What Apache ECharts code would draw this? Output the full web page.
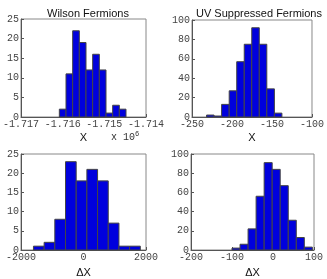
<!DOCTYPE html>
<html><head><meta charset="utf-8">
<script src="https://cdn.jsdelivr.net/npm/echarts@6/dist/echarts.min.js"></script>
<style>html,body{margin:0;padding:0;background:#fff}#c{width:327px;height:279px}</style>
</head><body><div id="c"></div>
<script>
// Panel 1: Wilson Fermions, X
const wilsonXEdges = [-1716080, -1715920, -1715760, -1715600, -1715440, -1715280, -1715120, -1714960, -1714800, -1714640, -1714480];
const wilsonXCounts = [2, 11, 22, 19, 12, 16, 12, 1, 3, 2];
// Panel 2: UV Suppressed Fermions, X
const uvXEdges = [-231.8, -222.4, -213.0, -203.5, -194.1, -184.7, -175.3, -165.9, -156.5, -147.0, -137.6];
const uvXCounts = [2, 1, 13, 27, 57, 75, 92, 75, 29, 4];
// Panel 3: Wilson Fermions, Delta X
const wilsonDEdges = [-1602, -1260, -918, -576, -234, 108, 450, 792, 1134, 1476, 1818];
const wilsonDCounts = [1, 2, 8, 23, 18, 21, 18, 7, 1, 1];
// Panel 4: UV Suppressed Fermions, Delta X
const uvDEdges = [-100, -80.4, -60.8, -41.2, -21.6, -2, 17.6, 37.2, 56.8, 76.4, 96];
const uvDCounts = [2, 6, 22, 56, 91, 84, 67, 31, 13, 3];

const titles = ['Wilson Fermions', 'UV Suppressed Fermions'];
const xLabels = ['X', 'X', '\u0394X', '\u0394X'];

const panels = [
  {edges: wilsonXEdges, counts: wilsonXCounts, grid: {left: 21, top: 19, width: 125, height: 98},
   x: {min: -1717000, max: -1714000, interval: 1000, fmt: v => (v / 1e6).toFixed(3)}, y: {min: 0, max: 25, interval: 5}},
  {edges: uvXEdges, counts: uvXCounts, grid: {left: 192, top: 20, width: 123, height: 97},
   x: {min: -250, max: -100, interval: 50}, y: {min: 0, max: 100, interval: 20}},
  {edges: wilsonDEdges, counts: wilsonDCounts, grid: {left: 21, top: 154, width: 125, height: 98},
   x: {min: -2000, max: 2000, interval: 2000}, y: {min: 0, max: 25, interval: 5}},
  {edges: uvDEdges, counts: uvDCounts, grid: {left: 191, top: 154, width: 123, height: 98},
   x: {min: -200, max: 100, interval: 100}, y: {min: 0, max: 100, interval: 20}}
];

const mono = 'Liberation Mono';
const sans = 'Liberation Sans';
const tickColor = '#444';

const option = {
  animation: false,
  title: [
    {text: titles[0], left: 83, top: 3, textAlign: 'center', textStyle: {fontFamily: sans, fontSize: 11, fontWeight: 'normal', color: '#111'}},
    {text: titles[1], left: 254, top: 3, textAlign: 'center', textStyle: {fontFamily: sans, fontSize: 11, fontWeight: 'normal', color: '#111'}}
  ],
  grid: panels.map(p => Object.assign({show: true, borderColor: '#888', borderWidth: 1, backgroundColor: '#fff'}, p.grid)),
  xAxis: panels.map((p, i) => ({
    type: 'value', gridIndex: i, min: p.x.min, max: p.x.max, interval: p.x.interval,
    name: xLabels[i], nameLocation: 'middle', nameGap: i < 2 ? 15 : 17,
    nameTextStyle: {fontFamily: sans, fontSize: 11, color: '#111'},
    axisLine: {show: true, onZero: false, lineStyle: {color: '#555'}},
    axisTick: {show: true, inside: true, length: 3, lineStyle: {color: '#555'}},
    axisLabel: {fontFamily: mono, fontSize: 10, color: tickColor, margin: 2, formatter: p.x.fmt || (v => String(v)), showMinLabel: true, showMaxLabel: true},
    splitLine: {show: false}
  })),
  yAxis: panels.map((p, i) => ({
    type: 'value', gridIndex: i, min: p.y.min, max: p.y.max, interval: p.y.interval,
    axisLine: {show: true, onZero: false, lineStyle: {color: '#555'}},
    axisTick: {show: true, inside: true, length: 3, lineStyle: {color: '#555'}},
    axisLabel: {fontFamily: mono, fontSize: 10, color: tickColor, margin: 2},
    splitLine: {show: false}
  })),
  series: panels.map((p, i) => ({
    type: 'custom', xAxisIndex: i, yAxisIndex: i,
    data: p.counts.map((c, k) => [p.edges[k], p.edges[k + 1], c]),
    encode: {x: [0, 1], y: 2},
    renderItem: function (params, api) {
      const a = api.coord([api.value(0), api.value(2)]);
      const b = api.coord([api.value(1), 0]);
      return {
        type: 'rect',
        shape: {x: a[0], y: a[1], width: b[0] - a[0], height: b[1] - a[1]},
        style: {fill: '#0000dd', stroke: '#444', lineWidth: 1}
      };
    }
  })),
  graphic: [
    {type: 'text', left: 111, top: 131, style: {
      text: '{a|x 10}{b|6}', rich: {a: {fontFamily: mono, fontSize: 10, fill: '#333'}, b: {fontFamily: mono, fontSize: 7, fill: '#333', verticalAlign: 'top', padding: [0, 0, 6, 0]}}
    }}
  ]
};

const chart = echarts.init(document.getElementById('c'), null, {renderer: 'canvas'});
chart.setOption(option);
</script>
</body></html>
